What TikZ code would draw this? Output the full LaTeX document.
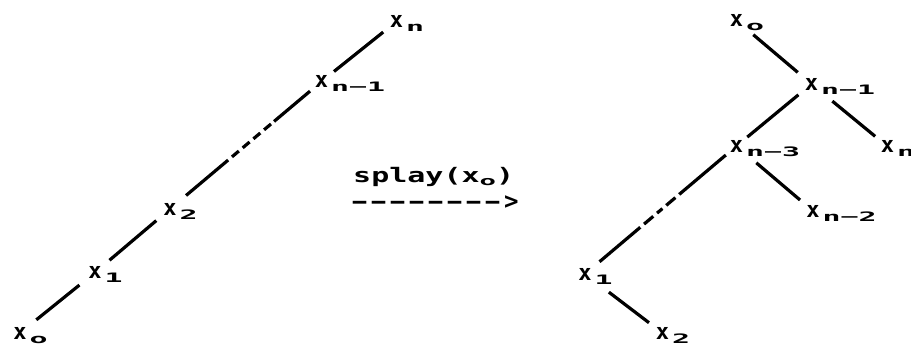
\documentclass[tikz,border=0pt]{standalone}
\usepackage{fontspec}
\newfontfamily\dmono{DejaVu Sans Mono}
\newcommand\subtx[1]{\scalebox{2.3}[1]{\dmono\bfseries\fontsize{13}{13}\selectfont #1}}
\newcommand\lx[1]{x\rlap{\smash{\kern3pt\raisebox{-4pt}{\subtx{#1}}}}}
\newcommand\dsh{\makebox[19pt][c]{\scalebox{2.2}[1]{-}}}
\tikzset{
  xnode/.style={inner sep=0pt, font=\dmono\bfseries\fontsize{22}{22}\selectfont},
  edge/.style={line width=3.2pt},
  txt/.style={inner sep=0pt, anchor=base west},
}
\begin{document}
\begin{tikzpicture}[x=1pt,y=1pt]
\useasboundingbox[fill=white] (0,0) rectangle (911,345);
% left tree
\node[xnode] (L0) at (20,12) {\lx{o}};
\node[xnode] (L1) at (95,72.5) {\lx{1}};
\node[xnode] (L2) at (170,136) {\lx{2}};
\node[xnode] (Ln1) at (321.5,263.5) {\lx{n−1}};
\node[xnode] (Ln) at (396.5,323.5) {\lx{n}};
\draw[edge, shorten <=21pt, shorten >=20pt] (L0.center) -- (L1.center);
\draw[edge, shorten <=19pt, shorten >=18pt] (L1.center) -- (L2.center);
\draw[edge, shorten <=21pt, shorten >=15pt, dash pattern=on 55pt off 5pt on 9pt off 5pt on 9pt off 5pt on 9pt off 5pt on 9pt off 4pt on 200pt] (L2.center) -- (Ln1.center);
\draw[edge, shorten <=16pt, shorten >=17pt] (Ln1.center) -- (Ln.center);
% middle
\node[txt] (sp) at (353,162) {\scalebox{1.5}[1]{\dmono\bfseries\fontsize{20}{20}\selectfont splay(x\raisebox{-3pt}{\scalebox{1.3}[0.9]{\fontsize{14}{14}\selectfont o}})}};
\node[txt] (ar) at (350,136) {\dmono\bfseries\fontsize{20}{20}\selectfont \dsh\dsh\dsh\dsh\dsh\dsh\dsh\dsh\kern2pt\makebox[16pt][l]{\raisebox{-1pt}{\scalebox{1.2}[1.2]{>}}}};
% right tree
\node[xnode] (R0) at (736.5,324.5) {\lx{o}};
\node[xnode] (Rn1) at (811.5,261) {\lx{n−1}};
\node[xnode] (Rn) at (887.5,198.5) {\lx{n}};
\node[xnode] (Rn3) at (736.5,199) {\lx{n−3}};
\node[xnode] (Rn2) at (813,134) {\lx{n−2}};
\node[xnode] (R1) at (585,71) {\lx{1}};
\node[xnode] (R2) at (662.5,12) {\lx{2}};
\draw[edge, shorten <=22pt, shorten >=18pt] (R0.center) -- (Rn1.center);
\draw[edge, shorten <=17pt, shorten >=14pt] (Rn1.center) -- (Rn3.center);
\draw[edge, shorten <=27pt, shorten >=16pt] (Rn1.center) -- (Rn.center);
\draw[edge, shorten <=26pt, shorten >=17pt] (Rn3.center) -- (Rn2.center);
\draw[edge, shorten <=14pt, shorten >=19pt, dash pattern=on 61pt off 5pt on 12pt off 5pt on 7pt off 5pt on 12pt off 5pt on 200pt] (Rn3.center) -- (R1.center);
\draw[edge, shorten <=30pt, shorten >=17pt] (R1.center) -- (R2.center);
\end{tikzpicture}
\end{document}
